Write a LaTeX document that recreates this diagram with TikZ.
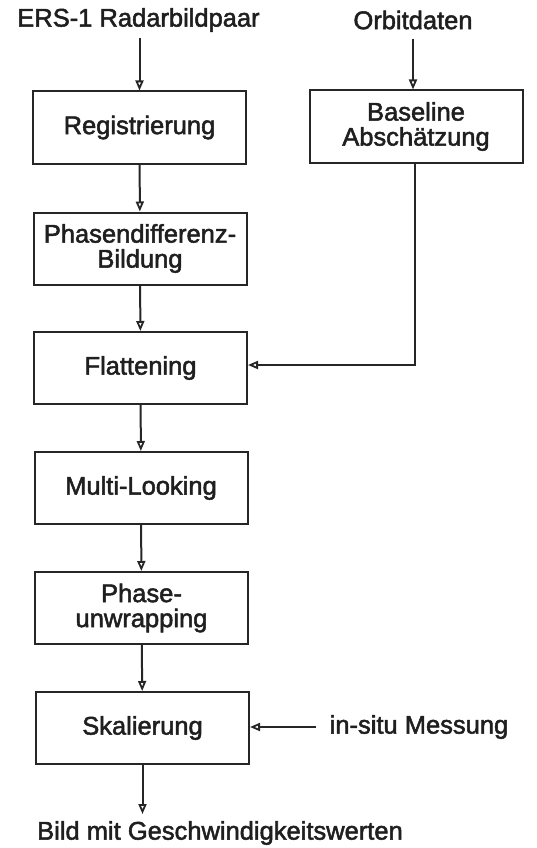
\documentclass[tikz,border=0pt]{standalone}
\usepackage{fontspec}
\setmainfont{Liberation Sans}
\newfontfamily\diagfont[FakeBold=2]{Liberation Sans}
\usetikzlibrary{arrows.meta,calc}
\begin{document}
\begin{tikzpicture}[x=1pt,y=1pt,
  every node/.style={font=\diagfont\fontsize{25.5}{25}\selectfont, text=black!88},
  procbox/.style={draw=black!85, line width=2pt, minimum width=213pt, minimum height=72pt,
                  align=center, inner sep=2pt},
  label/.style={inner sep=2pt},
  arr/.style={draw=black!85, line width=2pt,
              -{Triangle[open,length=10pt,width=8pt,line width=1.8pt]}}]
  \useasboundingbox (0,0) rectangle (536,-848);

  % inputs
  \node[label] (ers) at (138.5,-20) {ERS-1 Radarbildpaar};
  \node[label] (orb) at (413,-20) {Orbitdaten};

  % processing chain
  \node[procbox] (reg)    at (139.5,-127.5) {Registrierung};
  \node[procbox] (base)   at (416,-126.5)   {Baseline\\Abschätzung};
  \node[procbox] (phase)  at (140,-248.5)   {Phasendifferenz-\\Bildung};
  \node[procbox] (flat)   at (140.5,-368)   {Flattening};
  \node[procbox] (multi)  at (141,-488)     {Multi-Looking};
  \node[procbox] (unwrap) at (141.5,-608)   {Phase-\\unwrapping};
  \node[procbox] (skal)   at (142.5,-728)   {Skalierung};

  % side input and output
  \node[label, inner sep=0pt] (insitu) at (419,-727) {in-situ Messung};
  \node[label] (result) at (220,-833) {Bild mit Geschwindigkeitswerten};
  \coordinate (resin) at ($(skal.south)+(0,-49)$);
  \coordinate (bend) at (415,-365);

  % connectors
  \draw[arr] ($(reg.north |- ers.south)+(0,-4)$) -- (reg.north);
  \draw[arr] ($(orb.south)+(0,-7)$) -- (orb.south |- base.north);
  \draw[arr] (reg) -- (phase);
  \draw[arr] (phase) -- (flat);
  \draw[arr] (base.south -| bend) -- (bend) -- (flat.east |- bend);
  \draw[arr] (flat) -- (multi);
  \draw[arr] (multi) -- (unwrap);
  \draw[arr] (unwrap) -- (skal);
  \draw[arr] ($(insitu.west)+(-14,0)$) -- (skal.east |- insitu.west);
  \draw[arr] (skal.south) -- (resin);
\end{tikzpicture}
\end{document}
